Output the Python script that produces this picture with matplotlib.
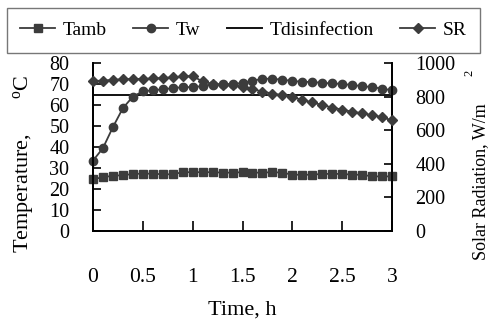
import matplotlib
matplotlib.use("Agg")
import matplotlib.pyplot as plt
from matplotlib.lines import Line2D

plt.rcParams['font.family'] = ['Liberation Serif', 'DejaVu Serif']
plt.rcParams['mathtext.fontset'] = 'custom'
plt.rcParams['mathtext.rm'] = 'Liberation Serif'
plt.rcParams['mathtext.it'] = 'Liberation Serif'

# sampling times (h)
time_h = [0.0, 0.1, 0.2, 0.3, 0.4, 0.5, 0.6, 0.7, 0.8, 0.9, 1.0,
          1.1, 1.2, 1.3, 1.4, 1.5, 1.6, 1.7, 1.8, 1.9, 2.0,
          2.1, 2.2, 2.3, 2.4, 2.5, 2.6, 2.7, 2.8, 2.9, 3.0]

# ambient temperature (C)
t_amb = [24.8, 25.5, 26.4, 26.5, 27.2, 27.3, 27.3, 27.0, 27.0, 28.0, 28.0,
         28.0, 28.0, 27.8, 27.8, 28.0, 27.8, 27.8, 28.0, 27.8, 26.8,
         26.8, 26.8, 27.2, 27.2, 27.2, 26.8, 26.8, 26.0, 26.0, 26.0]

# water temperature (C)
t_w = [33.5, 39.5, 49.5, 58.5, 64.0, 66.5, 67.0, 67.5, 68.0, 68.5, 68.5,
       69.0, 69.5, 70.0, 70.0, 70.5, 71.5, 72.5, 72.5, 72.0, 71.5,
       71.0, 71.0, 70.5, 70.3, 70.0, 69.5, 69.0, 68.5, 67.8, 67.0]

# disinfection threshold (C)
t_disinfection = 65

# solar radiation (W/m2)
sr = [893, 895, 900, 903, 905, 905, 908, 910, 915, 920, 922,
      890, 875, 872, 870, 855, 845, 830, 818, 808, 798,
      780, 765, 750, 735, 722, 710, 700, 690, 678, 658]

W, H = 495, 326
fig = plt.figure(figsize=(W / 100, H / 100), dpi=100)
ax = fig.add_axes([93 / W, 1 - 231 / H, 299 / W, 168 / H])
ax2 = ax.twinx()

c = '#3c3c3c'
ax.plot(time_h, t_amb, '-s', color=c, ms=5.5, lw=1.3, clip_on=False, zorder=3)
ax.plot(time_h, t_w, '-o', color=c, ms=6, lw=1.3, clip_on=False, zorder=3)
ax.plot([time_h[0], time_h[-1]], [t_disinfection, t_disinfection], '-',
        color='#111111', lw=1.4, zorder=2)
ax2.plot(time_h, sr, '-D', color=c, ms=5, lw=1.3, clip_on=False, zorder=3)

ax.set_xlim(0, 3)
ax.set_ylim(0, 80)
ax2.set_ylim(0, 1000)
ax.set_xticks([0, 0.5, 1, 1.5, 2, 2.5, 3])
ax.set_xticklabels(['0', '0.5', '1', '1.5', '2', '2.5', '3'])
ax.set_yticks(range(0, 81, 10))
ax2.set_yticks(range(0, 1001, 200))

for a in (ax, ax2):
    a.spines['top'].set_visible(False)
    for s in a.spines.values():
        s.set_linewidth(1.3)
ax.tick_params(axis='y', direction='in', length=6, width=1.2, pad=17, labelsize=14.5)
ax.tick_params(axis='x', direction='in', length=7, width=1.2, pad=27, labelsize=15.5)
ax2.tick_params(axis='y', direction='in', length=6, width=1.2, pad=17, labelsize=14.5)

# axis titles
fig.text((93 + 392) / 2 / W, 1 - 310 / H, 'Time, h', ha='center', va='center', fontsize=16)
fig.text(24 / W, 1 - 164 / H, r'Temperature,$\ \ \ \ \ \ ^{\mathrm{o}}$C', rotation=90,
         ha='center', va='center', fontsize=16)
fig.text(481 / W, 1 - 182 / H, 'Solar Radiation, W/m', rotation=90, ha='center',
         va='center', fontsize=13)
fig.text(469 / W, 1 - 73 / H, '2', rotation=90, ha='center', va='center', fontsize=9)

handles = [
    Line2D([], [], color=c, marker='s', ms=5.5, lw=1.3),
    Line2D([], [], color=c, marker='o', ms=6, lw=1.3),
    Line2D([], [], color='#111111', lw=1.4),
    Line2D([], [], color=c, marker='D', ms=5, lw=1.3),
]
leg = fig.legend(handles, ['Tamb', 'Tw', 'Tdisinfection', 'SR'], ncol=4,
                 loc='upper center', bbox_to_anchor=((12 + 475) / 2 / W, 1 - 8 / H),
                 fontsize=14, frameon=True, fancybox=False, handlelength=1.8,
                 handletextpad=0.4, columnspacing=1.35, borderpad=0.7,
                 borderaxespad=0)
leg.get_frame().set_edgecolor('#555555')
leg.get_frame().set_linewidth(1.0)

fig.savefig('out.png', dpi=100)
